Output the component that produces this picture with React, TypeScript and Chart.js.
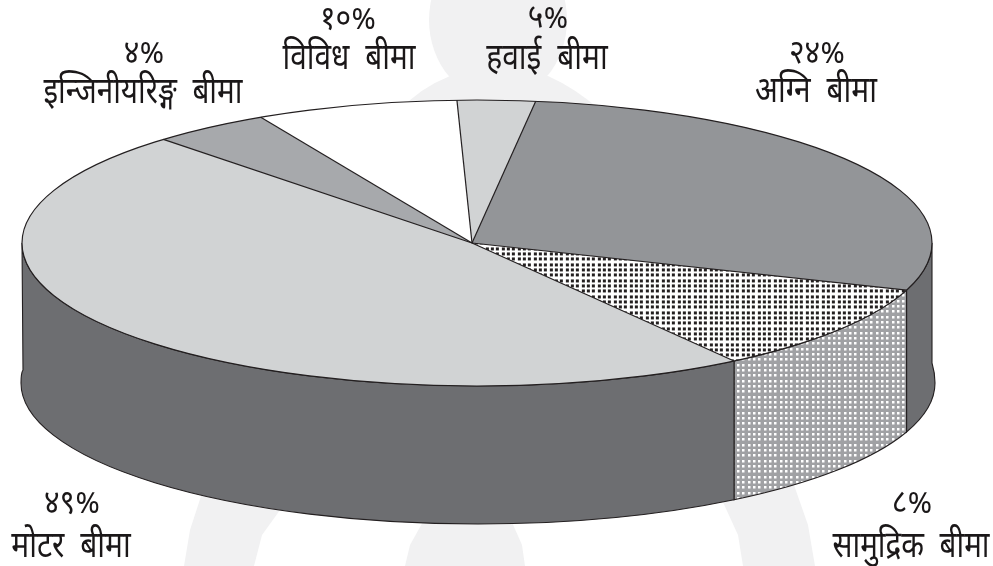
import { useEffect, useRef } from "react";
import { Chart, registerables } from "chart.js";

Chart.register(...registerables);

const categories = ["हवाई बीमा", "अग्नि बीमा", "सामुद्रिक बीमा", "मोटर बीमा", "इन्जिनीयरिङ्ग बीमा", "विविध बीमा"];
// The percentages printed on the picture.
const printedPercent = ["५%", "२४%", "८%", "४९%", "४%", "१०%"];
// The share of the disc each slice actually occupies in the picture (the artwork is not to scale).
const drawnShare = [2.76, 28.06, 10.01, 47.72, 4.25, 7.2];
const topColors = ["#d1d3d4", "#939598", "dots", "#d1d3d4", "#a7a9ac", "#ffffff"];
const sideColors = ["#6d6e71", "#6d6e71", "holes", "#6d6e71", "#6d6e71", "#6d6e71"];

const LABEL_POS = [
  { px: 548, p: 28, x: 547, n: 69, w: 122 },
  { px: 817, p: 63, x: 816, n: 102, w: 122 },
  { px: 912, p: 513, x: 911, n: 557, w: 157 },
  { px: 72, p: 513, x: 71, n: 557, w: 122 },
  { px: 144, p: 63, x: 143, n: 103, w: 199 },
  { px: 348, p: 29, x: 349, n: 69, w: 133 },
];

const TOP = { cx: 477, cy: 243, rx: 455, ry: 143 };
const BOTTOM = { cx: 478, cy: 383, rx: 457, ry: 141 };
const APEX = { x: 472, y: 243 };
const FAN = 1.06; // the fan of slices overshoots the rim and is clipped to it
const INK = "#231f20";
const FONT = '"Noto Sans Devanagari", "Noto Sans", "Lohit Devanagari", sans-serif';

// Angle on the rim ellipse reached by a slice edge leaving the off-centre apex at angle a.
function rimAngle(a: number) {
  const ox = (APEX.x - TOP.cx) / TOP.rx;
  const c = Math.cos(a);
  const s = Math.sin(a);
  const t = -ox * c + Math.sqrt(ox * ox * c * c - ox * ox + 1);
  return Math.atan2(t * s, ox + t * c);
}

// Angle on the lower rim straight below a given point of the upper rim.
function lowerAngle(t: number) {
  const x = TOP.cx + TOP.rx * Math.cos(t);
  return Math.acos((x - BOTTOM.cx) / BOTTOM.rx);
}

function tile(bg: string, fg: string, size: number) {
  const c = document.createElement("canvas");
  c.width = 16;
  c.height = 16;
  const g = c.getContext("2d")!;
  g.fillStyle = bg;
  g.fillRect(0, 0, 16, 16);
  g.fillStyle = fg;
  for (const x of [1, 6, 12]) {
    for (const y of [1, 6, 12]) {
      g.fillRect(x, y, size, size);
    }
  }
  return c;
}

export default function App() {
  const ref = useRef<HTMLCanvasElement>(null);
  useEffect(() => {
    document.body.style.margin = "0";
    document.body.style.background = "#fff";
    const canvas = ref.current!;
    const ctx = canvas.getContext("2d")!;
    const dots = ctx.createPattern(tile("#ffffff", "#231f20", 3), "repeat")!;
    const holes = ctx.createPattern(tile("#a0a1a4", "#ffffff", 2.5), "repeat")!;
    const paint = (c: string) => (c === "dots" ? dots : c === "holes" ? holes : c);

    const discPlugin = {
      id: "disc",
      beforeDraw(chart: any) {
        const g = chart.ctx;
        g.save();
        g.fillStyle = "#ffffff";
        g.fillRect(0, 0, 993, 566);
        g.fillStyle = "#f1f1f2";
        g.beginPath();
        g.ellipse(498, 20, 69, 80, 0, 0, Math.PI * 2);
        g.fill();
        g.beginPath();
        g.moveTo(450, 76);
        g.quadraticCurveTo(420, 88, 400, 110);
        g.lineTo(600, 110);
        g.quadraticCurveTo(575, 88, 548, 76);
        g.fill();
        const legs = [
          [[184, 566], [190, 530], [203, 490], [280, 510], [262, 535], [254, 566]],
          [[405, 566], [410, 545], [424, 520], [511, 520], [522, 545], [525, 566]],
          [[743, 566], [738, 535], [722, 500], [794, 485], [808, 525], [815, 566]],
        ];
        for (const leg of legs) {
          g.beginPath();
          leg.forEach(([x, y], i) => (i ? g.lineTo(x, y) : g.moveTo(x, y)));
          g.fill();
        }
        g.restore();
      },
      beforeDatasetsDraw(chart: any) {
        const g = chart.ctx;
        const arcs = chart.getDatasetMeta(0).data;
        const first = arcs[0];
        const sx = (TOP.rx * FAN) / first.outerRadius;
        const sy = (TOP.ry * FAN) / first.outerRadius;
        // side wall of the disc, from the arcs' own angles
        arcs.forEach((arc: any, i: number) => {
          const a0 = Math.max(arc.startAngle, 0);
          const a1 = Math.min(arc.endAngle, Math.PI);
          if (a1 <= a0) return;
          const lo = rimAngle(a0);
          const hi = rimAngle(a1);
          const atLeft = a1 >= Math.PI - 1e-6;
          const atRight = a0 <= 1e-6;
          g.save();
          g.beginPath();
          g.ellipse(TOP.cx, TOP.cy, TOP.rx, TOP.ry, 0, lo, hi);
          if (atLeft) {
            g.lineTo(23, 370);
            g.quadraticCurveTo(21, 373, BOTTOM.cx - BOTTOM.rx, BOTTOM.cy);
          }
          g.ellipse(
            BOTTOM.cx,
            BOTTOM.cy,
            BOTTOM.rx,
            BOTTOM.ry,
            0,
            atLeft ? Math.PI : lowerAngle(hi),
            atRight ? 0 : lowerAngle(lo),
            true,
          );
          if (atRight) {
            g.quadraticCurveTo(935, 373, 932, 363);
          }
          g.closePath();
          g.fillStyle = paint(sideColors[i]);
          g.fill();
          g.strokeStyle = INK;
          g.lineWidth = 1.1;
          g.stroke();
          g.restore();
        });
        // squash the library's round pie into the disc's top, clipped to the rim
        dots.setTransform(new DOMMatrix().scale(1 / sx, 1 / sy));
        g.save();
        g.beginPath();
        g.ellipse(TOP.cx, TOP.cy, TOP.rx, TOP.ry, 0, 0, Math.PI * 2);
        g.clip();
        g.translate(APEX.x, APEX.y);
        g.scale(sx, sy);
        g.translate(-first.x, -first.y);
      },
      afterDatasetsDraw(chart: any) {
        const g = chart.ctx;
        g.restore();
        const arcs = chart.getDatasetMeta(0).data;
        g.save();
        g.strokeStyle = INK;
        g.lineJoin = "round";
        g.lineWidth = 1.2;
        arcs.forEach((arc: any) => {
          const t = rimAngle(arc.startAngle);
          g.beginPath();
          g.moveTo(APEX.x, APEX.y);
          g.lineTo(TOP.cx + TOP.rx * Math.cos(t), TOP.cy + TOP.ry * Math.sin(t));
          g.stroke();
        });
        g.beginPath();
        g.ellipse(TOP.cx, TOP.cy, TOP.rx, TOP.ry, 0, 0, Math.PI * 2);
        g.stroke();
        g.fillStyle = "#1a1718";
        g.textAlign = "center";
        g.textBaseline = "alphabetic";
        categories.forEach((name, i) => {
          const pos = LABEL_POS[i];
          g.save();
          g.translate(pos.px, pos.p);
          g.scale(1, 1.1);
          g.font = `30px ${FONT}`;
          g.fillText(printedPercent[i], 0, 0);
          g.restore();
          g.save();
          g.translate(pos.x, pos.n);
          g.scale(1, 1.25);
          g.font = `30px ${FONT}`;
          g.wordSpacing = "8px";
          g.fillText(name, 0, 0, pos.w);
          g.restore();
        });
        g.restore();
      },
    };

    const chart = new Chart(canvas, {
      type: "pie",
      data: {
        labels: categories,
        datasets: [
          {
            data: drawnShare,
            backgroundColor: topColors.map(paint) as any,
            borderWidth: 0,
            hoverOffset: 0,
          },
        ],
      },
      options: {
        animation: false,
        responsive: false,
        rotation: -1.9,
        layout: { padding: 0 },
        plugins: { legend: { display: false }, tooltip: { enabled: false } },
      },
      plugins: [discPlugin],
    });
    return () => chart.destroy();
  }, []);
  return <canvas ref={ref} width={993} height={566} style={{ display: "block" }} />;
}
